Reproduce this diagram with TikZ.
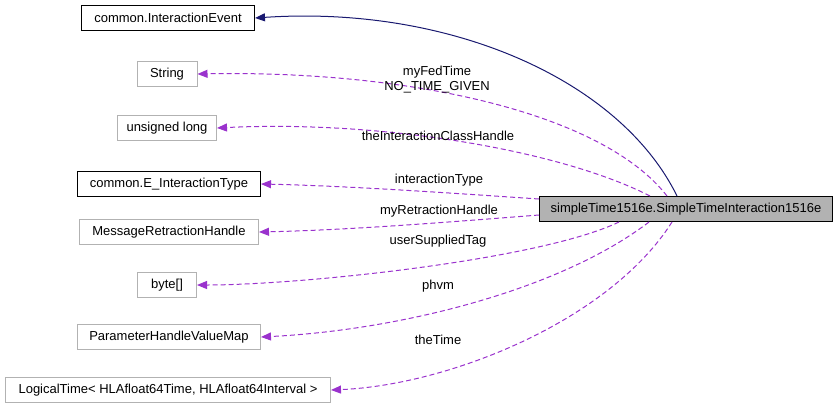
\documentclass[tikz,border=0pt]{standalone}
\usepackage{fontspec}
\setmainfont{Liberation Sans}
\usetikzlibrary{arrows.meta}
\definecolor{edgepurple}{HTML}{9A32CD}
\definecolor{edgenavy}{HTML}{191970}
\begin{document}
\begin{tikzpicture}[x=1pt, y=-1pt, font=\fontsize{13}{15}\selectfont, line width=1pt,
    cls/.style={draw=black, rectangle, minimum height=25pt, inner xsep=6pt},
    ext/.style={draw=black!30, rectangle, minimum height=25pt, inner xsep=6pt},
    use/.style={-{Triangle[length=10pt,width=8pt]}, dash pattern=on 5pt off 3pt, edgepurple},
    lbl/.style={align=center, inner sep=1pt}]
    \useasboundingbox (0,0) rectangle (840,413);
    % Main class
    \node[cls, fill=black!30, minimum width=293pt] (main) at (686,209) {simpleTime1516e.SimpleTimeInteraction1516e};

    % Collaborators
    \node[cls, minimum width=173pt] (event) at (168,18) {common.InteractionEvent};
    \node[ext, minimum width=60pt] (string) at (167,74) {String};
    \node[ext, minimum width=99pt] (ulong) at (167,128) {unsigned long};
    \node[cls, minimum width=183pt] (itype) at (169,184) {common.E\_InteractionType};
    \node[ext, minimum width=179pt] (retract) at (169,232) {MessageRetractionHandle};
    \node[ext, minimum width=59pt] (bytes) at (167,285) {byte[]};
    \node[ext, minimum width=183pt] (phvm) at (169,337) {ParameterHandleValueMap};
    \node[ext, minimum width=325pt] (ltime) at (168,390) {LogicalTime< HLAfloat64Time, HLAfloat64Interval >};

    % Inheritance
    \draw[-{Triangle[length=10pt,width=8pt]}, edgenavy] (main.north west)+(138,0) .. controls (620,80) and (450,5) .. (event.east);

    % Members
    \draw[use] (main.north west)+(128,0) .. controls (600,110) and (400,70) .. (string.east);
    \draw[use] (main.north west)+(111,0) .. controls (560,150) and (380,120) .. (ulong.east);
    \draw[use] (main.west)+(0,-10) .. controls (450,193) and (350,186) .. (itype.east);
    \draw[use] (main.west)+(0,6) .. controls (450,222) and (350,230) .. (retract.east);
    \draw[use] (main.south west)+(80,0) .. controls (540,260) and (300,285) .. (bytes.east);
    \draw[use] (main.south west)+(110,0) .. controls (560,290) and (400,330) .. (phvm.east);
    \draw[use] (main.south west)+(133,0) .. controls (610,320) and (450,385) .. (ltime.east);

    % Labels
    \node[lbl] (lfed) at (437,80) {myFedTime\\NO\_TIME\_GIVEN};
    \node[lbl] (lhandle) at (438,136) {theInteractionClassHandle};
    \node[lbl] (ltype) at (439,180) {interactionType};
    \node[lbl] (lret) at (439,211) {myRetractionHandle};
    \node[lbl] (ltag) at (438,241) {userSuppliedTag};
    \node[lbl] (lphvm) at (438,286) {phvm};
    \node[lbl] (ltime2) at (438,340) {theTime};
\end{tikzpicture}
\end{document}
